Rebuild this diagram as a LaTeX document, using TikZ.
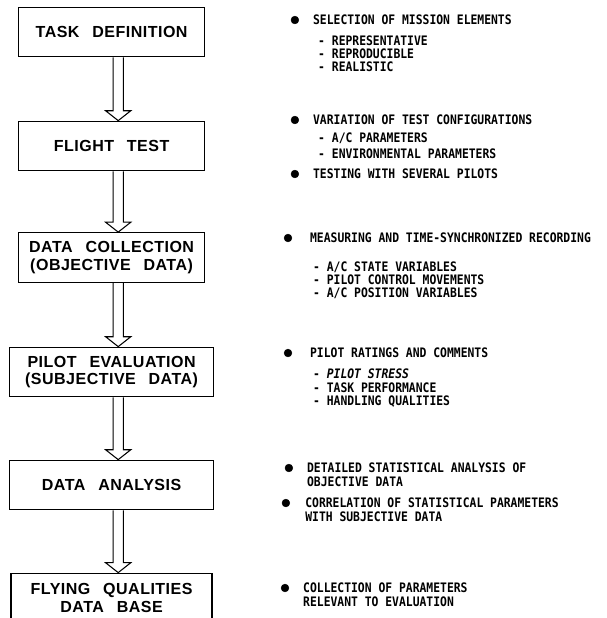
\documentclass[tikz,border=0pt]{standalone}
\usepackage{fontspec}
\usepackage{tikz}
\newfontfamily\boxfont[LetterSpace=3,WordSpace=2.6]{Liberation Sans}
\newfontfamily\listfont[FakeStretch=0.87]{DejaVu Sans Mono}

% hollow arrow from one box down to the next
\newcommand{\flowarrow}[2]{%
  \draw[line width=1pt] ([xshift=0.05cm]#1.south) -- ([xshift=0.05cm,yshift=0.33cm]#2.north)
    -- ([xshift=-0.2cm,yshift=0.33cm]#2.north) -- ([xshift=0.22cm]#2.north)
    -- ([xshift=0.64cm,yshift=0.33cm]#2.north) -- ([xshift=0.39cm,yshift=0.33cm]#2.north)
    -- ([xshift=0.39cm]#1.south);}

\begin{document}
\begin{tikzpicture}[
    stage/.style={draw, line width=1.2pt, minimum height=1.65cm, align=center,
      font=\boxfont\bfseries\fontsize{15.2}{16.5}\selectfont},
    item/.style={anchor=west, inner sep=0pt, font=\listfont\bfseries\fontsize{12.4}{13}\selectfont}]
                \useasboundingbox (0,0) rectangle (20.233,-20.6);
                % boxes
                \node[stage, minimum width=6.2cm] (task) at (3.72,-1.067) {TASK DEFINITION};
                \node[stage, minimum width=6.2cm] (flight) at (3.72,-4.867) {FLIGHT TEST};
                \node[stage, minimum width=6.2cm] (collect) at (3.72,-8.583) {DATA COLLECTION\\(OBJECTIVE DATA)};
                \node[stage, minimum width=6.8cm] (pilot) at (3.72,-12.4) {PILOT EVALUATION\\(SUBJECTIVE DATA)};
                \node[stage, minimum width=6.8cm] (analysis) at (3.72,-16.167) {DATA ANALYSIS};
                \node[stage, minimum width=6.7cm] (base) at (3.72,-19.933) {FLYING QUALITIES\\DATA BASE};
                % arrows
                \flowarrow{task}{flight}
                \flowarrow{flight}{collect}
                \flowarrow{collect}{pilot}
                \flowarrow{pilot}{analysis}
                \flowarrow{analysis}{base}
                % task definition
                \filldraw[black] (9.83,-0.667) circle (0.13);
                \draw (10.43,-0.667) node[item] (sel) {SELECTION OF MISSION ELEMENTS};
                \draw (10.6,-1.367) node[item] (rep) {- REPRESENTATIVE};
                \draw (10.6,-1.8) node[item] (repro) {- REPRODUCIBLE};
                \draw (10.6,-2.233) node[item] (real) {- REALISTIC};
                % flight test
                \filldraw[black] (9.83,-4.0) circle (0.13);
                \draw (10.43,-4.0) node[item] (var) {VARIATION OF TEST CONFIGURATIONS};
                \draw (10.6,-4.6) node[item] (acpar) {- A/C PARAMETERS};
                \draw (10.6,-5.133) node[item] (envpar) {- ENVIRONMENTAL PARAMETERS};
                \filldraw[black] (9.83,-5.8) circle (0.13);
                \draw (10.43,-5.8) node[item] (several) {TESTING WITH SEVERAL PILOTS};
                % data collection
                \filldraw[black] (9.6,-7.933) circle (0.13);
                \draw (10.33,-7.933) node[item] (meas) {MEASURING AND TIME-SYNCHRONIZED RECORDING};
                \draw (10.43,-8.9) node[item] (state) {- A/C STATE VARIABLES};
                \draw (10.43,-9.333) node[item] (ctrl) {- PILOT CONTROL MOVEMENTS};
                \draw (10.43,-9.767) node[item] (pos) {- A/C POSITION VARIABLES};
                % pilot evaluation
                \filldraw[black] (9.6,-11.767) circle (0.13);
                \draw (10.33,-11.767) node[item] (ratings) {PILOT RATINGS AND COMMENTS};
                \draw (10.43,-12.467) node[item] (stress) {- \itshape PILOT STRESS};
                \draw (10.43,-12.933) node[item] (perf) {- TASK PERFORMANCE};
                \draw (10.43,-13.4) node[item] (hq) {- HANDLING QUALITIES};
                % data analysis
                \filldraw[black] (9.63,-15.6) circle (0.13);
                \draw (10.23,-15.6) node[item] (stat) {DETAILED STATISTICAL ANALYSIS OF};
                \draw (10.23,-16.067) node[item] (obj) {OBJECTIVE DATA};
                \filldraw[black] (9.53,-16.767) circle (0.13);
                \draw (10.17,-16.767) node[item] (corr) {CORRELATION OF STATISTICAL PARAMETERS};
                \draw (10.17,-17.233) node[item] (subj) {WITH SUBJECTIVE DATA};
                % data base
                \filldraw[black] (9.5,-19.6) circle (0.13);
                \draw (10.1,-19.6) node[item] (coll) {COLLECTION OF PARAMETERS};
                \draw (10.1,-20.067) node[item] (relev) {RELEVANT TO EVALUATION};
            \end{tikzpicture}
\end{document}
